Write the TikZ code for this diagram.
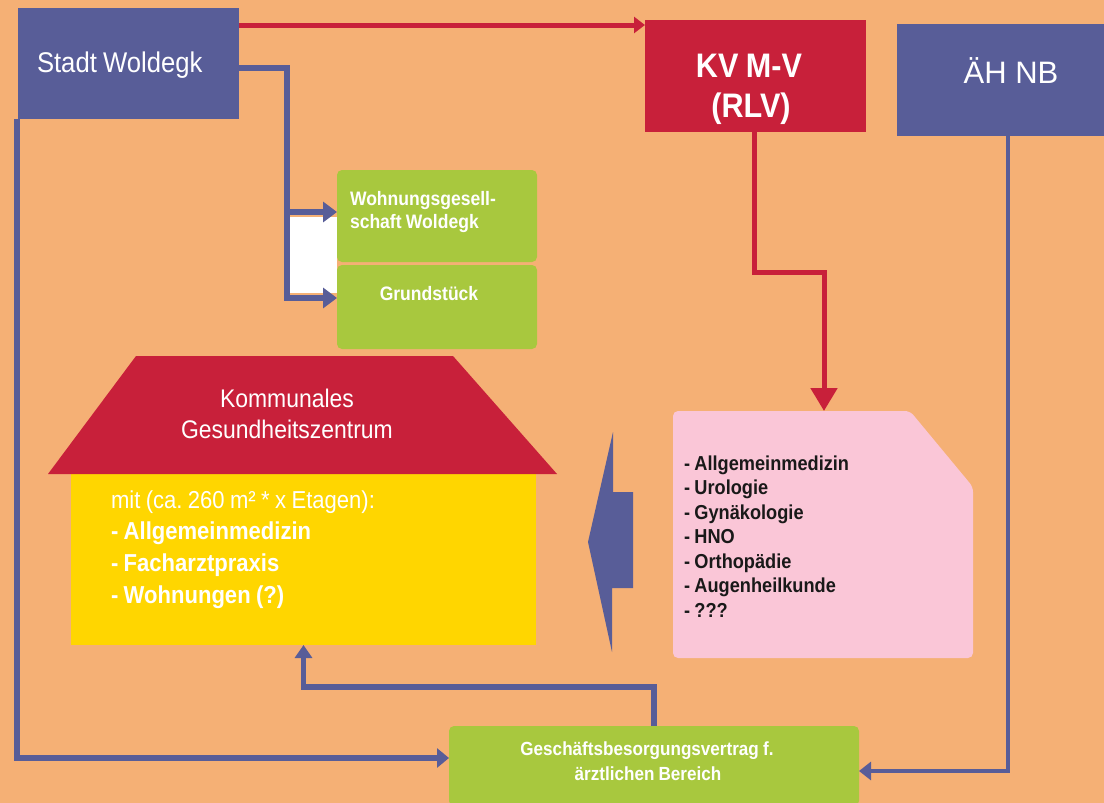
\documentclass[tikz,border=0pt]{standalone}
\usepackage{fontspec}
\usetikzlibrary{arrows.meta}
\newfontfamily\nfbase{Liberation Sans}[FakeStretch=0.9]
\newcommand\nf{\nfbase}
\newcommand\wdsp{\frenchspacing\spaceskip=0.22em plus 0.06em minus 0.04em\relax}
\newfontfamily\wf{Liberation Sans}
\definecolor{bg}{RGB}{245,176,117}
\definecolor{slate}{RGB}{88,93,152}
\definecolor{kvred}{RGB}{200,32,58}
\definecolor{lgreen}{RGB}{168,200,62}
\definecolor{gold}{RGB}{255,214,0}
\definecolor{pinkbox}{RGB}{250,198,215}
\tikzset{
  box/.style={draw=none, inner sep=0pt, outer sep=0pt, anchor=north west},
  bluebox/.style={box, fill=slate},
  redbox/.style={box, fill=kvred},
  greenbox/.style={box, fill=lgreen, rounded corners=5pt},
  txt/.style={inner sep=0pt, outer sep=0pt, text=white},
  blueline/.style={draw=slate, line width=5.5pt},
  bluearrow/.style={blueline, -{Triangle[length=14pt,width=20pt]}},
  thinblue/.style={draw=slate, line width=4pt},
  redline/.style={draw=kvred, line width=5pt},
  gtext/.style={txt, anchor=base, font={\nf\bfseries\fontsize{19}{25}\selectfont}},
}
\begin{document}
\begin{tikzpicture}[x=1pt,y=-1pt]
\useasboundingbox (0,0) rectangle (1104,803);
\clip (0,0) rectangle (1104,803);
\fill[bg] (0,0) rectangle (1104,803);

% boxes
\node[bluebox, minimum width=221pt, minimum height=111pt] (stadt) at (18,8) {};
\node[redbox, minimum width=221pt, minimum height=112pt] (kv) at (645,20) {};
\node[bluebox, minimum width=230pt, minimum height=112pt] (aeh) at (897,24) {};
\node[greenbox, minimum width=200pt, minimum height=92pt] (woh) at (337,170) {};
\node[greenbox, minimum width=200pt, minimum height=84pt] (grund) at (337,265) {};
\node[greenbox, minimum width=410pt, minimum height=80pt] (gesch) at (449,726) {};

% white patch between the two arrows
\fill[white] (290,217) rectangle (337,293);

% house
\node[box, fill=gold, minimum width=465pt, minimum height=173pt] (body) at (71,472) {};
\fill[kvred] (136,356) -- (453,356) -- (557,474) -- (48,474) -- cycle;

% pink box with cut corner
\fill[pinkbox, rounded corners=5pt] (673,411) -- (910,411) -- (973,487) -- (973,658) -- (673,658) -- cycle;
\coordinate (pinktop) at (824,411);

% big left arrow
\fill[slate] (588,542) -- (613,432) -- (613,492) -- (633,492) -- (633,588) -- (612,588) -- (612,652) -- cycle;

% texts
\node[txt, anchor=base west, font={\nf\fontsize{28.5}{32}\selectfont}] (tstadt) at (37,72) {\wdsp Stadt Woldegk};
\node[txt, anchor=base, font={\nf\bfseries\fontsize{34}{40}\selectfont}] (tkv1) at (749,77) {\wdsp KV M-V};
\node[txt, anchor=base, font={\nf\bfseries\fontsize{34}{40}\selectfont}] (tkv2) at (751,117) {(RLV)};
\node[txt, anchor=base, font={\wf\fontsize{31}{36}\selectfont}] (taeh) at (1011,83) {ÄH NB};
\node[txt, anchor=base west, font={\nf\bfseries\fontsize{19.5}{23.5}\selectfont}, text width=180pt, align=left] (twoh) at (350,205) {\wdsp Wohnungsgesell-\\schaft Woldegk};
\node[txt, anchor=base, font={\nf\bfseries\fontsize{19.5}{23}\selectfont}] (tgrund) at (429,300) {Grundstück};
\node[txt, anchor=base, font={\nf\fontsize{25.5}{31}\selectfont}, text width=300pt, align=center] (troof) at (287,407) {Kommunales\\Gesundheitszentrum};
\node[txt, anchor=base west, font={\nf\bfseries\fontsize{24.5}{31.7}\selectfont}, text width=400pt, align=left] (tbody) at (111,508) {\wdsp{\mdseries\wdsp mit (ca. 260 m² * x Etagen):}\\- Allgemeinmedizin\\- Facharztpraxis\\- Wohnungen (?)};
\node[txt, text=black!90, anchor=base west, font={\nf\bfseries\fontsize{20.2}{24.5}\selectfont}, text width=260pt, align=left] (tpink) at (684,470) {\wdsp - Allgemeinmedizin\\- Urologie\\- Gynäkologie\\- HNO\\- Orthopädie\\- Augenheilkunde\\- ???};
\node[gtext] (tgesch1) at (647,755) {\wdsp Geschäftsbesorgungsvertrag f.};
\node[gtext] (tgesch2) at (648,780) {\wdsp ärztlichen Bereich};

% connectors
\draw[redline, -{Triangle[length=11pt,width=16pt]}] (stadt.east |- 0,25) -- (kv.west |- 0,25);
\draw[blueline] (stadt.east |- 0,68) -- (287,68) -- (287,300.75);
\draw[bluearrow] (287,212) -- (woh.west |- 0,212);
\draw[bluearrow] (284.25,298) -- (grund.west |- 0,298);
\draw[redline, -{Triangle[length=23pt,width=26pt]}] (kv.south -| 754,0) -- (754,272) -- (824,272) -- (pinktop);
\draw[blueline, -{Triangle[length=13pt,width=17pt]}] (gesch.north) -- (gesch.north |- 0,687) -- (body.south |- 0,687) -- (body.south);
\draw[blueline, -{Triangle[length=12pt,width=19pt]}] (stadt.south -| 17,0) -- (17,758) -- (gesch.west |- 0,758);
\draw[thinblue, -{Triangle[length=12pt,width=18pt]}] (aeh.south -| 1008,0) -- (1008,771) -- (gesch.east |- 0,771);
\end{tikzpicture}
\end{document}
